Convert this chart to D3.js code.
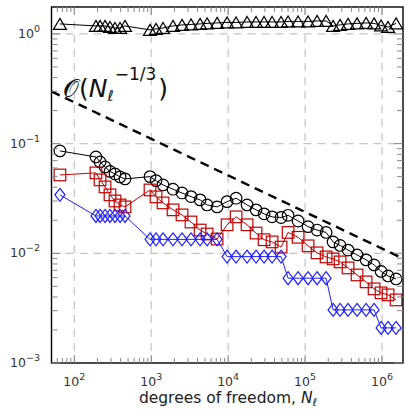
<!DOCTYPE html>
<html><head><meta charset="utf-8">
<script src="https://cdn.jsdelivr.net/npm/d3@7"></script>
<style>body{margin:0;background:#fff}</style>
</head><body><svg id="c" width="406" height="409"></svg>
<script>
// ---- data ----
const dof = [65, 191, 216, 251, 291, 338, 393, 456,
  964, 1154, 1423, 1919, 2512, 3289, 4315, 5321, 7178, 9683,
  12677, 17620, 23070, 29300, 37240, 48750, 60100, 81100, 109400, 143200,
  187500, 231200, 285100, 362200, 474200, 620900, 788900, 972800, 1199000, 1524000];
const errCircle = [0.0858, 0.0756, 0.0681, 0.0613, 0.0558, 0.0529, 0.0497, 0.0477,
  0.0500, 0.0460, 0.0420, 0.0384, 0.0355, 0.0329, 0.0307, 0.0276, 0.0265, 0.0296,
  0.0318, 0.0276, 0.0249, 0.0229, 0.0215, 0.0212, 0.0222, 0.0197, 0.0175, 0.0163,
  0.0155, 0.0127, 0.0118, 0.0107, 0.00967, 0.00871, 0.00784, 0.00684, 0.00622, 0.00584];
const errSquare = [0.0518, 0.0541, 0.0467, 0.0403, 0.0341, 0.0300, 0.0276, 0.0265,
  0.0378, 0.0327, 0.0288, 0.0249, 0.0224, 0.0193, 0.0163, 0.0150, 0.0135, 0.0182,
  0.0215, 0.0182, 0.0153, 0.0133, 0.0127, 0.0114, 0.0155, 0.0140, 0.0117, 0.0101,
  0.00927, 0.00889, 0.00835, 0.00736, 0.00635, 0.00549, 0.00474, 0.00436, 0.00418, 0.00376];
const errDiamond = [0.0341, 0.0219, 0.0219, 0.0219, 0.0219, 0.0219, 0.0219, 0.0219,
  0.0134, 0.0134, 0.0134, 0.0134, 0.0134, 0.0134, 0.0134, 0.0134, 0.0134,
  0.00933, 0.00933, 0.00933, 0.00933, 0.00933, 0.00933, 0.00933,
  0.00593, 0.00593, 0.00593, 0.00593, 0.00593,
  0.00305, 0.00305, 0.00305, 0.00305, 0.00305, 0.00305,
  0.00209, 0.00209, 0.00209];
const effTriangle = [1.234, 1.183, 1.183, 1.183, 1.158, 1.134, 1.134, 1.183,
  1.088, 1.111, 1.134, 1.183, 1.208, 1.221, 1.234, 1.247, 1.260, 1.273,
  1.273, 1.286, 1.286, 1.286, 1.286, 1.286, 1.300, 1.300, 1.300, 1.314,
  1.314, 1.183, 1.208, 1.234, 1.247, 1.260, 1.247, 1.195, 1.158, 1.247];
const refN = [50.5, 1875000];
const refV = [0.299, 0.00896];
const xTickExp = [2, 3, 4, 5, 6];
const yTickExp = [-3, -2, -1, 0];

// ---- setup ----
const svg = d3.select("#c");
const L = 51.5, R = 403, T = 7, B = 363;
const x = d3.scaleLog().domain([50.5, 1.875e6]).range([L, R]);
const y = d3.scaleLog().domain([1e-3, 1.76]).range([B, T]);
const font = "DejaVu Sans, sans-serif";

svg.append("rect").attr("width", 406).attr("height", 409).attr("fill", "#fff");

// grid
const g = svg.append("g");
xTickExp.forEach(e => {
  const px = x(Math.pow(10, e));
  g.append("line").attr("x1", px).attr("x2", px).attr("y1", T).attr("y2", B)
    .attr("stroke", "#c4c4c4").attr("stroke-width", 1.2).attr("stroke-dasharray", "8,6");
});
yTickExp.filter(e => e > -3).forEach(e => {
  const py = y(Math.pow(10, e));
  g.append("line").attr("x1", L).attr("x2", R).attr("y1", py).attr("y2", py)
    .attr("stroke", "#c4c4c4").attr("stroke-width", 1.2).attr("stroke-dasharray", "8,6");
});

const plot = svg.append("g");
plot.append("clipPath").attr("id", "clip").append("rect")
  .attr("x", L).attr("y", T).attr("width", R - L).attr("height", B - T);
const P = plot.append("g").attr("clip-path", "url(#clip)");

// reference line
P.append("path").datum(refN.map((n, i) => [n, refV[i]]))
  .attr("d", d3.line().x(d => x(d[0])).y(d => y(d[1])))
  .attr("fill", "none").attr("stroke", "#000").attr("stroke-width", 2.4)
  .attr("stroke-dasharray", "9,6");

function series(vals, color, shape) {
  const pts = dof.map((n, i) => [n, vals[i]]);
  P.append("path").datum(pts)
    .attr("d", d3.line().x(d => x(d[0])).y(d => y(d[1])))
    .attr("fill", "none").attr("stroke", color).attr("stroke-width", 1);
  const s = P.append("g");
  pts.forEach(d => {
    const cx = x(d[0]), cy = y(d[1]);
    let el;
    if (shape === "circle") el = s.append("circle").attr("cx", cx).attr("cy", cy).attr("r", 5.8);
    else if (shape === "square") el = s.append("rect").attr("x", cx - 5.8).attr("y", cy - 5.8).attr("width", 11.6).attr("height", 11.6);
    else if (shape === "diamond") el = s.append("path").attr("d", `M${cx},${cy-6.5}L${cx+5},${cy}L${cx},${cy+6.5}L${cx-5},${cy}Z`);
    else el = s.append("path").attr("d", `M${cx},${cy-5.5}L${cx+6.5},${cy+5.5}L${cx-6.5},${cy+5.5}Z`);
    el.attr("fill", "none").attr("stroke", color).attr("stroke-width", 1.2);
  });
}
series(effTriangle, "#000", "triangle");
series(errCircle, "#000", "circle");
series(errSquare, "#c00000", "square");
series(errDiamond, "#1f1fff", "diamond");

// frame
svg.append("rect").attr("x", L).attr("y", T).attr("width", R - L).attr("height", B - T)
  .attr("fill", "none").attr("stroke", "#000").attr("stroke-width", 1.4);

// ticks
const tickCol = "#888";
const xMinor = [], yMinor = [];
for (let e = 1; e <= 6; e++) for (let k = 2; k <= 9; k++) {
  const v = k * Math.pow(10, e); if (v > 50.5 && v < 1.875e6) xMinor.push(v);
}
for (let e = -3; e <= 0; e++) for (let k = 2; k <= 9; k++) {
  const v = k * Math.pow(10, e); if (v < 1.76) yMinor.push(v);
}
const xMajor = xTickExp.map(e => Math.pow(10, e));
const yMajor = yTickExp.map(e => Math.pow(10, e));
const tk = svg.append("g").attr("stroke", tickCol).attr("stroke-width", 1);
function vt(v, len) {
  const px = x(v);
  tk.append("line").attr("x1", px).attr("x2", px).attr("y1", B).attr("y2", B - len);
  tk.append("line").attr("x1", px).attr("x2", px).attr("y1", T).attr("y2", T + len);
}
function ht(v, len) {
  const py = y(v);
  tk.append("line").attr("x1", L).attr("x2", L + len).attr("y1", py).attr("y2", py);
  tk.append("line").attr("x1", R).attr("x2", R - len).attr("y1", py).attr("y2", py);
}
xMinor.forEach(v => vt(v, 5)); xMajor.forEach(v => vt(v, 8));
yMinor.forEach(v => ht(v, 6)); yMajor.forEach(v => ht(v, 9));

// tick labels
const lab = svg.append("g").attr("font-family", font).attr("fill", "#333");
xTickExp.forEach(e => {
  const t = lab.append("text").attr("x", x(Math.pow(10, e))).attr("y", 386)
    .attr("text-anchor", "middle").attr("font-size", 12.5);
  t.append("tspan").text("10");
  t.append("tspan").attr("dy", -6).attr("font-size", 9.5).text(String(e));
});
yTickExp.forEach(e => {
  const t = lab.append("text").attr("x", 40).attr("y", y(Math.pow(10, e)) + 4)
    .attr("text-anchor", "end").attr("font-size", 12.5);
  t.append("tspan").text("10");
  t.append("tspan").attr("dy", -6).attr("font-size", 9.5).text(e < 0 ? "\u2212" + (-e) : String(e));
});

// axis label
const xl = svg.append("text").attr("x", 228).attr("y", 403).attr("text-anchor", "middle")
  .attr("font-family", font).attr("font-size", 15.5).attr("fill", "#222");
xl.append("tspan").text("degrees of freedom, ");
xl.append("tspan").attr("font-style", "italic").text("N");
xl.append("tspan").attr("font-size", 11).attr("dy", 3).attr("font-style", "italic").text("\u2113");

// annotation (single flowing text element)
const an = svg.append("text").attr("x", 63).attr("y", 97)
  .attr("font-family", font).attr("fill", "#111").attr("font-size", 25);
an.append("tspan").text("\ud835\udcaa(");
an.append("tspan").attr("font-style", "italic").text("N");
an.append("tspan").attr("dy", 4).attr("font-size", 15).attr("font-style", "italic").text("\u2113");
an.append("tspan").attr("dy", -21).attr("dx", 1).attr("font-size", 17).text("\u22121/3");
an.append("tspan").attr("dy", 17).attr("dx", 2).text(")");
</script></body></html>
